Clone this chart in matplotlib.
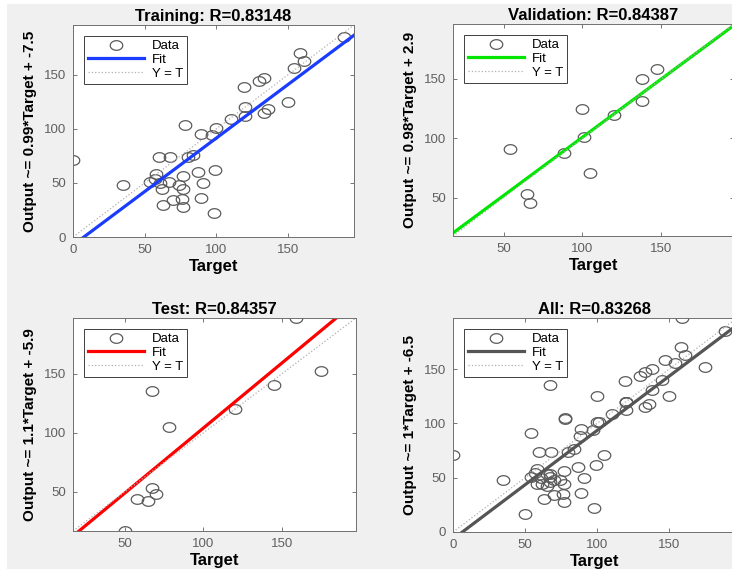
import numpy as np
import matplotlib.pyplot as plt
from matplotlib.path import Path
from matplotlib.patches import Rectangle

plt.rcParams['font.family'] = ['Liberation Sans', 'DejaVu Sans']

# =========================
# Data
# =========================
train_t = [0, 35, 54, 57, 58, 60, 61, 62, 63, 68, 67, 70, 74, 76, 77, 77, 77, 78, 80, 84,
           87, 89, 89, 91, 97, 99, 98, 100, 110, 119, 120, 120, 130, 133, 133, 136,
           150, 154, 158, 161, 189]
train_y = [71, 48, 51, 54, 58, 74, 50, 44, 30, 74, 51, 34, 48, 35, 56, 44, 28, 104, 74, 76,
           60, 95, 36, 50, 94, 62, 22, 101, 109, 139, 120, 112, 144, 147, 115, 118,
           125, 156, 170, 163, 185]

val_t = [54, 65, 67, 88, 100, 101, 105, 120, 138, 138, 147]
val_y = [91, 53, 46, 88, 125, 101, 71, 120, 150, 131, 158]

test_t = [50, 58, 65, 67, 70, 67, 78, 120, 145, 159, 175]
test_y = [17, 44, 42, 53, 48, 135, 105, 120, 140, 197, 152]

all_t = train_t + val_t + test_t
all_y = train_y + val_y + test_y

titles = ['Training: R=0.83148', 'Validation: R=0.84387', 'Test: R=0.84357', 'All: R=0.83268']
slopes = [0.99, 0.98, 1.1, 1]
intercepts = [-7.5, 2.9, -5.9, -6.5]
ylabels = ['Output ~= 0.99*Target + -7.5', 'Output ~= 0.98*Target + 2.9',
           'Output ~= 1.1*Target + -5.9', 'Output ~= 1*Target + -6.5']
limits = [(0, 196), (18, 196), (17, 197), (0, 197)]
fit_colors = ['#1a3cff', '#00e600', '#ff0000', '#555555']

# =========================
# Layout
# =========================
W, H = 732, 569
boxes = [(73, 25, 354, 237), (453, 24, 734, 236), (73, 318, 356, 531), (453, 318, 737, 532)]
datasets = [(train_t, train_y), (val_t, val_y), (test_t, test_y), (all_t, all_y)]

# the source picture is a bit stretched sideways, so circles look like ellipses
ang = np.linspace(0, 2 * np.pi, 60)
ellipse = Path(np.column_stack([1.3 * np.cos(ang), np.sin(ang)]), closed=True)

fig = plt.figure(figsize=(W / 100, H / 100), dpi=100, facecolor='#f0f0f0')
fig.patches.append(Rectangle((0, 0), 7 / W, 1, transform=fig.transFigure,
                             facecolor='white', edgecolor='none', zorder=-1))
fig.patches.append(Rectangle((0, 1 - 4 / H), 1, 4 / H, transform=fig.transFigure,
                             facecolor='white', edgecolor='none', zorder=-1))

for i in range(4):
    x0, y0, x1, y1 = boxes[i]
    ax = fig.add_axes([x0 / W, 1 - y1 / H, (x1 - x0) / W, (y1 - y0) / H])
    t, y = datasets[i]
    lo, hi = limits[i]
    xs = np.array([lo, hi])

    ax.plot(t, y, linestyle='none', marker=ellipse, mfc='none', mec='#5a5a5a',
            ms=9, mew=0.9, label='Data')
    ax.plot(xs, slopes[i] * xs + intercepts[i], color=fit_colors[i], lw=2.3, label='Fit')
    ax.plot(xs, xs, ':', color='#b0b0b0', lw=0.9, label='Y = T')

    ax.set_xlim(lo, hi)
    ax.set_ylim(lo, hi)
    ax.set_xticks([v for v in [0, 50, 100, 150] if lo <= v <= hi])
    ax.set_yticks([v for v in [0, 50, 100, 150] if lo <= v <= hi])
    ax.tick_params(direction='in', length=3, width=0.6, top=True, right=True,
                   labelsize=9.5, colors='#606060', pad=5)
    for s in ax.spines.values():
        s.set_color('#707070')
        s.set_linewidth(0.7)

    ax.set_title(titles[i], fontsize=12, fontweight='bold', pad=3)
    ax.set_xlabel('Target', fontsize=12, fontweight='bold', labelpad=2)
    ax.set_ylabel(ylabels[i], fontsize=11, fontweight='bold', labelpad=5)

    leg = ax.legend(loc='upper left', fontsize=9.5, numpoints=1, handlelength=4.2,
                    fancybox=False, framealpha=1, edgecolor='#404040',
                    borderaxespad=0.8, labelspacing=0.1, handletextpad=0.6,
                    borderpad=0.35)
    leg.get_frame().set_linewidth(0.7)

plt.savefig('out.png', dpi=100, facecolor=fig.get_facecolor())
